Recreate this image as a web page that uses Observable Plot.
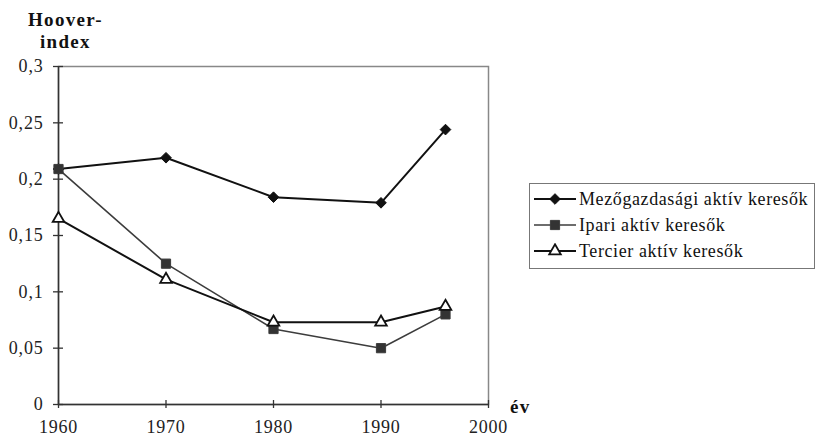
<!DOCTYPE html>
<html><head><meta charset="utf-8">
<script src="https://cdn.jsdelivr.net/npm/d3@7"></script>
<script src="https://cdn.jsdelivr.net/npm/@observablehq/plot@0.6"></script>
<style>
body{margin:0;background:#fff;font-family:"Liberation Serif","Times New Roman",Times,Tinos,"DejaVu Serif",serif}
#wrap{position:relative;width:817px;height:444px;overflow:hidden}
#wrap svg.chart{position:absolute;left:0;top:0}
.ttl{position:absolute;font-weight:bold;font-size:19px;color:#111;line-height:22px;letter-spacing:1.3px}
#legend{position:absolute;left:529px;top:183px;width:286px;height:86px;border:1px solid #777;box-sizing:border-box;background:#fff}
.row{position:absolute;left:3px;height:26px;display:flex;align-items:center;font-size:18px;letter-spacing:0.6px;color:#111;white-space:nowrap}
.row svg{margin-right:2px}
</style></head><body><div id="wrap"></div>
<script>
const years = [1960, 1970, 1980, 1990, 1996];
const mezo = [0.209, 0.219, 0.184, 0.179, 0.244];
const ipari = [0.209, 0.125, 0.067, 0.050, 0.080];
const tercier = [0.165, 0.111, 0.073, 0.073, 0.087];
const seriesNames = ["Mezőgazdasági aktív keresők", "Ipari aktív keresők", "Tercier aktív keresők"];
const yTicks = [0, 0.05, 0.1, 0.15, 0.2, 0.25, 0.3];
const xTicks = [1960, 1970, 1980, 1990, 2000];
const yTitle = ["Hoover-", "index"];
const xTitle = "év";

const FONT = "'Liberation Serif','Times New Roman',Times,Tinos,'DejaVu Serif',serif";
const styles = [
  {stroke: "#111", width: 2, symbol: "diamond2", fill: "#111", r: 4.8},
  {stroke: "#3c3c3c", width: 1.6, symbol: "square", fill: "#333", r: 5.2},
  {stroke: "#111", width: 2, symbol: "triangle", fill: "#fff", r: 4.3}
];
const valuesList = [mezo, ipari, tercier];
const data = valuesList.flatMap((vals, i) => years.map((y, j) => ({series: seriesNames[i], year: y, value: vals[j]})));

const fmt = d => String(d).replace(".", ",");

const marks = [
  Plot.frame({stroke: "#888", strokeWidth: 1.5}),
  Plot.ruleX([1960], {stroke: "#333", strokeWidth: 1.5}),
  Plot.ruleY([0], {stroke: "#333", strokeWidth: 1.5}),
  Plot.ruleY(yTicks, {x1: 1960, x2: 1960, insetLeft: -5, insetRight: -5, stroke: "#333", strokeWidth: 1.3}),
  Plot.ruleX(xTicks, {y1: 0, y2: 0, insetTop: -4, insetBottom: -4, stroke: "#333", strokeWidth: 1.3}),
  Plot.axisY(yTicks, {tickSize: 0, tickPadding: 15, tickFormat: fmt, fontSize: 18, fill: "#222", label: null}),
  Plot.axisX(xTicks, {tickSize: 0, tickPadding: 16, tickFormat: d => String(d), fontSize: 18, fill: "#222", label: null})
];
seriesNames.forEach((name, i) => {
  const s = styles[i];
  const d = data.filter(e => e.series === name);
  marks.push(Plot.line(d, {x: "year", y: "value", stroke: s.stroke, strokeWidth: s.width}));
});
seriesNames.forEach((name, i) => {
  const s = styles[i];
  const d = data.filter(e => e.series === name);
  marks.push(Plot.dot(d, {x: "year", y: "value", symbol: () => s.symbol, r: s.r, fill: s.fill, stroke: s.stroke, strokeWidth: i === 2 ? 1.8 : 1}));
});

const chart = Plot.plot({
  width: 817, height: 444,
  marginLeft: 58, marginRight: 329, marginTop: 66, marginBottom: 40,
  style: {fontFamily: FONT, background: "transparent", letterSpacing: "0.8px"},
  x: {domain: [1960, 2000], axis: null, label: null},
  y: {domain: [0, 0.3], axis: null, label: null},
  symbol: {type: "identity"},
  marks
});
chart.classList.add("chart");
const wrap = document.getElementById("wrap");
wrap.appendChild(chart);

const t = document.createElement("div");
t.className = "ttl";
t.style.left = "28px"; t.style.top = "9px"; t.style.textAlign = "center";
t.innerHTML = yTitle.join("<br>");
wrap.appendChild(t);

const xt = document.createElement("div");
xt.className = "ttl";
xt.style.left = "510px"; xt.style.top = "396px";
xt.textContent = xTitle;
wrap.appendChild(xt);

const lg = document.createElement("div");
lg.id = "legend";
seriesNames.forEach((name, i) => {
  const s = styles[i];
  const row = document.createElement("div");
  row.className = "row";
  row.style.top = (2 + i * 26) + "px";
  const ns = "http://www.w3.org/2000/svg";
  const sv = document.createElementNS(ns, "svg");
  sv.setAttribute("width", 44); sv.setAttribute("height", 16);
  const ln = document.createElementNS(ns, "line");
  ln.setAttribute("x1", 1); ln.setAttribute("x2", 43); ln.setAttribute("y1", 8); ln.setAttribute("y2", 8);
  ln.setAttribute("stroke", s.stroke); ln.setAttribute("stroke-width", s.width);
  sv.appendChild(ln);
  const symMap = {diamond2: d3.symbolDiamond2, square: d3.symbolSquare, triangle: d3.symbolTriangle};
  const p = document.createElementNS(ns, "path");
  p.setAttribute("d", d3.symbol(symMap[s.symbol], Math.PI * s.r * s.r)());
  p.setAttribute("transform", "translate(22,8)");
  p.setAttribute("fill", s.fill); p.setAttribute("stroke", s.stroke);
  p.setAttribute("stroke-width", i === 2 ? 1.8 : 1);
  sv.appendChild(p);
  row.appendChild(sv);
  const tx = document.createElement("span");
  tx.textContent = name;
  row.appendChild(tx);
  lg.appendChild(row);
});
wrap.appendChild(lg);
</script></body></html>
